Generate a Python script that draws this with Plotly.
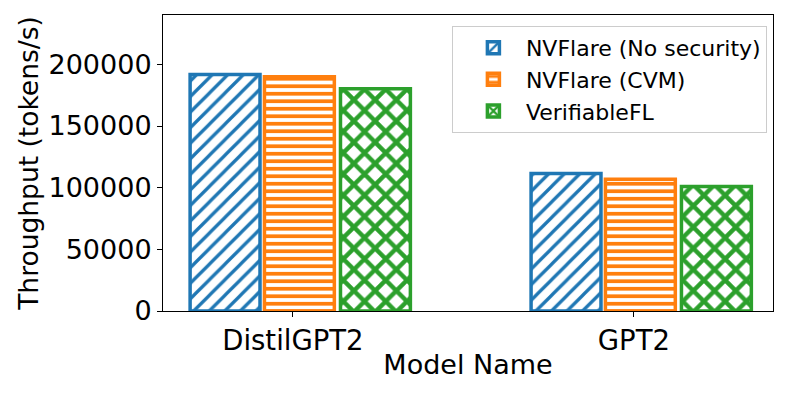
import plotly.graph_objects as go

models = ["DistilGPT2", "GPT2"]
series_names = ["NVFlare (No security)", "NVFlare (CVM)", "VerifiableFL"]
throughput_nosec = [191700, 111500]
throughput_cvm = [190000, 106900]
throughput_vfl = [180300, 101000]

colors = ["#1f77b4", "#ff7f0e", "#2ca02c"]
hatches = ["/", "-", "x"]
hatch_sizes = [11, 7.5, 15]
hatch_solid = [0.3, 0.5, 0.5]

bar_w = 0.205
offsets = [-0.3015, -0.0835, 0.1395]
xpos = list(range(len(models)))

fig = go.Figure()
for name, vals, c, h, hs, sol, off in zip(series_names,
                                          [throughput_nosec, throughput_cvm, throughput_vfl],
                                          colors, hatches, hatch_sizes, hatch_solid, offsets):
    fig.add_trace(go.Bar(
        x=xpos,
        y=vals,
        name=name,
        width=bar_w,
        offset=off,
        marker=dict(
            color=c,
            line=dict(color=c, width=3.5),
            pattern=dict(shape=h, fgcolor=c, bgcolor="white", fillmode="replace",
                         size=hs, solidity=sol),
        ),
    ))

font = "DejaVu Sans"
# page body adds an 8px offset, margins compensate
fig.update_layout(
    width=793, height=397,
    margin=dict(l=155, r=28, t=7, b=94),
    paper_bgcolor="white",
    plot_bgcolor="white",
    barmode="overlay",
    font=dict(family=font, size=27, color="black"),
    legend=dict(
        x=0.99, xanchor="right", y=0.963, yanchor="top",
        bgcolor="white", bordercolor="#cccccc", borderwidth=1,
        font=dict(family=font, size=22, color="black"),
        itemwidth=55, indentation=8,
    ),
)
fig.update_xaxes(
    range=[-0.381, 1.408],
    tickvals=xpos, ticktext=models,
    automargin=False,
    showline=True, linecolor="black", linewidth=1, mirror=True,
    ticks="outside", ticklen=5, tickcolor="black",
    tickfont=dict(family=font, size=27.5),
    title=dict(text="Model Name", standoff=0, font=dict(family=font, size=27)),
    showgrid=False, zeroline=False,
)
fig.update_yaxes(
    range=[0, 240000],
    dtick=50000, tickformat="d",
    automargin=False,
    showline=True, linecolor="black", linewidth=1, mirror=True,
    ticks="outside", ticklen=5, tickcolor="black",
    tickfont=dict(family=font, size=27),
    title=dict(text="Throughput (tokens/s)", standoff=2, font=dict(family=font, size=26.5)),
    showgrid=False, zeroline=False,
)

fig.write_html("out.html")
